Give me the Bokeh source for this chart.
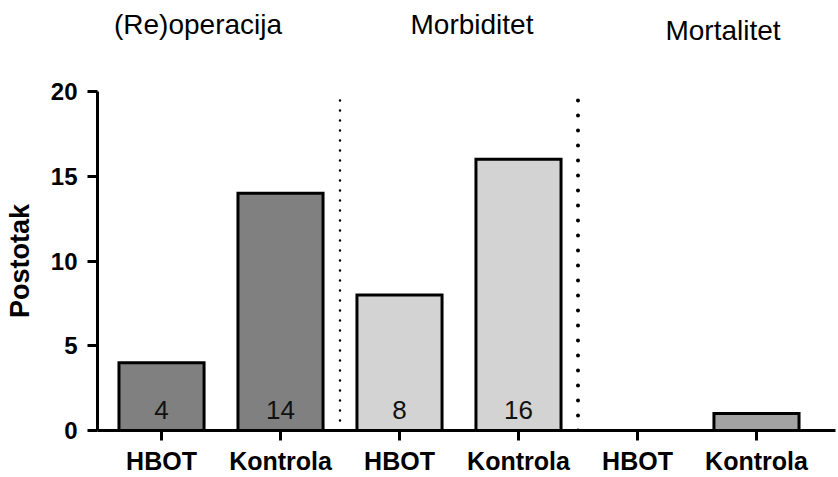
from bokeh.plotting import figure
from bokeh.models import ColumnDataSource, FixedTicker, Range1d
from bokeh.layouts import column
from bokeh.core.properties import value
from bokeh.embed import file_html
from bokeh.resources import INLINE

# ---- data ----
groups = ["(Re)operacija", "Morbiditet", "Mortalitet"]
categories = ["HBOT", "Kontrola", "HBOT", "Kontrola", "HBOT", "Kontrola"]
values = [4, 14, 8, 16, 0, 1]
value_labels = ["4", "14", "8", "16", "", ""]
y_ticks = [0, 5, 10, 15, 20]
y_max = 20

# ---- style / layout ----
group_colors = ["#808080", "#d3d3d3", "#a3a3a3"]
FONT = "Liberation Sans"
W = 836
TITLE_H = 79
MAIN_H = 398
MAIN_TOP, MAIN_BOTTOM = 12, 45
B_LEFT, B_RIGHT = 97, 1
X_RANGE = (-0.538, 5.664)
title_dx = [-23, 13, 26]        # px offsets of group titles from group centre
title_y_px = [55, 55, 49]       # baseline height in title strip, px from bottom
value_label_px = 21             # baseline of value labels above zero line, px

xs = list(range(len(categories)))
fills = [group_colors[i // 2] for i in xs]
src = ColumnDataSource(dict(x=xs, top=values, color=fills, lab=value_labels))

# ---- title strip ----
t = figure(width=W, height=TITLE_H, output_backend="svg", toolbar_location=None,
           x_range=Range1d(*X_RANGE), y_range=Range1d(0, TITLE_H),
           min_border_left=B_LEFT, min_border_right=B_RIGHT,
           min_border_top=0, min_border_bottom=0)
t.axis.visible = False
t.grid.visible = False
t.outline_line_color = None
gcenters = [2 * i + 0.5 for i in range(len(groups))]
tsrc = ColumnDataSource(dict(x=gcenters, y=title_y_px, dx=title_dx, t=groups))
t.text(x="x", y="y", text="t", x_offset="dx", source=tsrc,
       text_align="center", text_baseline="alphabetic",
       text_font=value(FONT), text_font_size="28px", text_color="black")

# ---- main plot ----
p = figure(width=W, height=MAIN_H, output_backend="svg", toolbar_location=None,
           x_range=t.x_range, y_range=Range1d(0, y_max),
           min_border_left=B_LEFT, min_border_right=B_RIGHT,
           min_border_top=MAIN_TOP, min_border_bottom=MAIN_BOTTOM)
p.outline_line_color = None
p.xgrid.visible = False
p.ygrid.visible = False

px_per_unit = (MAIN_H - MAIN_TOP - MAIN_BOTTOM) / y_max

p.vbar(x="x", top="top", width=0.715, bottom=0, source=src,
       fill_color="color", line_color="black", line_width=3, line_join="miter")

p.text(x="x", y=value_label_px / px_per_unit, text="lab", source=src,
       text_align="center", text_baseline="alphabetic",
       text_font=value(FONT), text_font_size="26px", text_color="#111111")

# group separators
for xpos, w, dash in [(1.5, 2.5, "0 10"), (3.5, 4, "0 15")]:
    p.line(x=[xpos, xpos], y=[0, y_max], line_color="black", line_width=w,
           line_dash=dash, line_cap="round")

xa = p.xaxis[0]
xa.ticker = FixedTicker(ticks=xs)
xa.major_label_overrides = {i: c for i, c in zip(xs, categories)}
xa.minor_tick_line_color = None
xa.axis_line_width = 3
xa.major_tick_line_width = 3
xa.major_tick_out = 10
xa.major_tick_in = 0
xa.major_label_standoff = 6
xa.major_label_text_font = FONT
xa.major_label_text_font_style = "bold"
xa.major_label_text_font_size = "25px"
xa.major_label_text_color = "black"

ya = p.yaxis[0]
ya.ticker = FixedTicker(ticks=y_ticks)
ya.minor_tick_line_color = None
ya.axis_line_width = 3
ya.major_tick_line_width = 3
ya.major_tick_out = 10
ya.major_tick_in = 0
ya.major_label_standoff = 10
ya.major_label_text_font = FONT
ya.major_label_text_font_style = "bold"
ya.major_label_text_font_size = "24px"
ya.major_label_text_color = "black"
ya.axis_label = "Postotak"
ya.axis_label_text_font = FONT
ya.axis_label_text_font_style = "bold"
ya.axis_label_text_font_size = "27px"
ya.axis_label_text_color = "black"
ya.axis_label_standoff = 13

layout = column(t, p, spacing=0)
open("out.html", "w").write(file_html(layout, INLINE))
